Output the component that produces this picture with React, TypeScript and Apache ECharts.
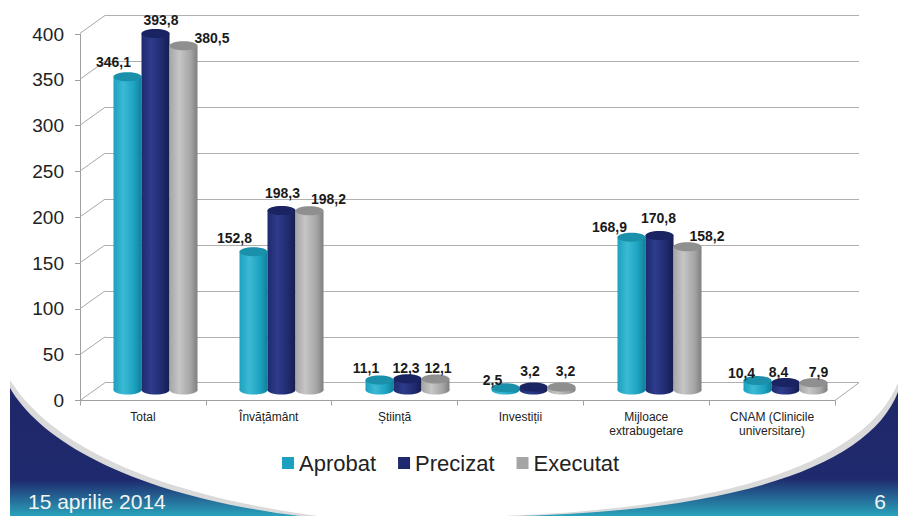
import React, { useEffect, useRef } from "react";
import * as echarts from "echarts";

// ---------- data ----------
const categories = [
  "Total",
  "Învățământ",
  "Știință",
  "Investiții",
  "Mijloace\nextrabugetare",
  "CNAM (Clinicile\nuniversitare)",
];
const seriesNames = ["Aprobat", "Precizat", "Executat"];
const aprobat = [346.1, 152.8, 11.1, 2.5, 168.9, 10.4];
const precizat = [393.8, 198.3, 12.3, 3.2, 170.8, 8.4];
const executat = [380.5, 198.2, 12.1, 3.2, 158.2, 7.9];
const yTicks = [0, 50, 100, 150, 200, 250, 300, 350, 400];
const footerDate = "15 aprilie 2014";
const slideNumber = "6";

// label nudges (px, relative to the top of each cylinder)
const aprobatNudge = [[-14, -15], [-19, -14], [-13.5, -12], [-13, -8], [-22, -10], [-16, -8]];
const precizatNudge = [[5.5, -14], [1, -18], [-1.5, -11], [-3.5, -16], [-1, -17], [-7, -10]];
const executatNudge = [[28.5, -8], [19, -12], [2.5, -11], [4, -16], [19.5, -11], [5, -11]];

// ---------- styles ----------
const FONT = '"Liberation Sans", Arial, sans-serif';
const DEPTH_X = 25;
const DEPTH_Y = 17.8;
const GROUP_FRAC = 84 / 126;
const palettes = [
  { base: "#1ba1bf", edge: "#127f98", light: "#3cbad4", top: "#1a90aa" },
  { base: "#1f2a6e", edge: "#151d50", light: "#2d3c8c", top: "#1b2462" },
  { base: "#a5a5a5", edge: "#7f7f7f", light: "#c6c6c6", top: "#8f8f8f" },
];

echarts.graphic.registerShape(
  "rimLeft",
  echarts.graphic.extendPath("M10,380 C44,434 128,490 318,516 L10,516 Z", {})
);
echarts.graphic.registerShape(
  "swooshLeft",
  echarts.graphic.extendPath("M10,388 C40,440 130,495 300,516 L10,516 Z", {})
);
echarts.graphic.registerShape(
  "rimRight",
  echarts.graphic.extendPath("M898,383 C866,460 735,508 500,516 L898,516 Z", {})
);
echarts.graphic.registerShape(
  "swooshRight",
  echarts.graphic.extendPath("M898,392 C870,465 740,510 520,516 L898,516 Z", {})
);

function cylinderSeries(idx: number, values: number[], nudges: number[][]) {
  const pal = palettes[idx];
  return {
    type: "custom",
    name: seriesNames[idx],
    xAxisIndex: 2,
    yAxisIndex: 2,
    clip: false,
    itemStyle: { color: pal.base },
    encode: { x: 0, y: 1 },
    data: values.map((v, i) => [i, v]),
    renderItem: (params: any, api: any) => {
      const ci = api.value(0);
      const v = api.value(1);
      const base = api.coord([ci, 0]);
      const top = api.coord([ci, v]);
      const band = api.size([1, 0])[0];
      const w = (band * GROUP_FRAC) / 3;
      const cx = base[0] + (idx - 1) * w;
      const rx = w / 2;
      const ry = 4.5;
      const grad = {
        type: "linear",
        x: 0,
        y: 0,
        x2: 1,
        y2: 0,
        colorStops: [
          { offset: 0, color: pal.base },
          { offset: 0.35, color: pal.light },
          { offset: 0.75, color: pal.base },
          { offset: 1, color: pal.edge },
        ],
      };
      const nd = nudges[params.dataIndex] || [0, -12];
      const txt = v.toFixed(1).replace(".", ",");
      return {
        type: "group",
        children: [
          {
            type: "ellipse",
            shape: { cx, cy: base[1], rx, ry },
            style: { fill: grad },
          },
          {
            type: "rect",
            shape: { x: cx - rx, y: top[1], width: w, height: Math.max(0, base[1] - top[1]) },
            style: { fill: grad },
          },
          {
            type: "ellipse",
            shape: { cx, cy: top[1], rx, ry },
            style: { fill: pal.top },
          },
          {
            type: "text",
            z2: 100,
            x: cx + nd[0],
            y: top[1] + nd[1],
            style: {
              text: txt,
              fill: "#1a1a1a",
              font: `bold 14px ${FONT}`,
              align: "center",
              verticalAlign: "middle",
            },
          },
        ],
      };
    },
  };
}

const depthSeries = {
  type: "custom",
  name: "depth",
  xAxisIndex: 0,
  yAxisIndex: 0,
  clip: false,
  silent: true,
  encode: { x: 0, y: 1 },
  data: yTicks.map((t) => [0, t]),
  renderItem: (params: any, api: any) => {
    const cs = params.coordSys;
    const y = api.coord([0, api.value(1)])[1];
    const stroke = { stroke: "#a8a8a8", lineWidth: 1 };
    const children: any[] = [
      {
        type: "line",
        shape: { x1: cs.x, y1: y, x2: cs.x - DEPTH_X, y2: y + DEPTH_Y },
        style: stroke,
      },
    ];
    if (api.value(1) === 0) {
      children.push({
        type: "line",
        shape: {
          x1: cs.x + cs.width,
          y1: y,
          x2: cs.x + cs.width - DEPTH_X + 1,
          y2: y + DEPTH_Y,
        },
        style: stroke,
      });
    }
    return { type: "group", children };
  },
};

export default function App() {
  const ref = useRef<HTMLDivElement>(null);
  useEffect(() => {
    if (!ref.current) return;
    const chart = echarts.init(ref.current, undefined, { renderer: "svg" });
    const axisGray = "#a0a0a0";
    const navyFill = (mid: number) => ({
      type: "linear",
      x: 0, y: 0, x2: 0, y2: 1,
      colorStops: [
        { offset: 0, color: "#1e2768" },
        { offset: mid, color: "#1f2a6e" },
        { offset: 1, color: "#2aa3bb" },
      ],
    });
    const option: any = {
      animation: false,
      backgroundColor: "#ffffff",
      textStyle: { fontFamily: FONT },
      grid: [
        { left: 105, top: 15.5, width: 754, height: 367.2 },
        { left: 80, top: 34, width: 755, height: 366.5 },
        { left: 92.5, top: 28, width: 756, height: 362 },
      ],
      xAxis: [
        { gridIndex: 0, type: "category", data: categories, show: false },
        {
          gridIndex: 1,
          type: "category",
          data: categories,
          axisLine: { show: true, lineStyle: { color: axisGray } },
          axisTick: { show: true, length: 5, lineStyle: { color: axisGray } },
          axisLabel: {
            interval: 0,
            color: "#222",
            fontSize: 12,
            fontFamily: FONT,
            margin: 9,
            lineHeight: 14,
          },
        },
        { gridIndex: 2, type: "category", data: categories, show: false },
      ],
      yAxis: [
        {
          gridIndex: 0,
          type: "value",
          min: 0,
          max: 400,
          interval: 50,
          axisLabel: { show: false },
          axisLine: { show: false },
          axisTick: { show: false },
          splitLine: { show: true, lineStyle: { color: "#b0b0b0", width: 1 } },
        },
        {
          gridIndex: 1,
          type: "value",
          min: 0,
          max: 400,
          interval: 50,
          axisLine: { show: true, lineStyle: { color: axisGray } },
          axisTick: { show: true, length: 5, lineStyle: { color: axisGray } },
          splitLine: { show: false },
          axisLabel: { color: "#222", fontSize: 19, fontFamily: FONT, margin: 16 },
        },
        { gridIndex: 2, type: "value", min: 0, max: 400, interval: 50, show: false, splitLine: { show: false } },
      ],
      legend: {
        data: seriesNames.map((n, i) => ({ name: n, itemStyle: { color: palettes[i].base } })),
        icon: "rect",
        itemWidth: 12,
        itemHeight: 12,
        itemGap: 22,
        left: 282,
        top: 452,
        padding: 0,
        textStyle: { color: "#222", fontSize: 22, fontFamily: FONT },
      },
      graphic: [
        { type: "rimLeft", x: 0, y: 0, z: -10, style: { fill: "#dadada" } },
        { type: "swooshLeft", x: 0, y: 0, z: -9, style: { fill: navyFill(0.72) } },
        { type: "rimRight", x: 0, y: 0, z: -10, style: { fill: "#dadada" } },
        { type: "swooshRight", x: 0, y: 0, z: -9, style: { fill: navyFill(0.7) } },
        {
          type: "text",
          x: 28,
          y: 501,
          z: 10,
          style: {
            text: footerDate,
            fill: "#f4f4f4",
            font: `21px ${FONT}`,
            align: "left",
            verticalAlign: "middle",
          },
        },
        {
          type: "text",
          x: 886,
          y: 501,
          z: 10,
          style: {
            text: slideNumber,
            fill: "#f4f4f4",
            font: `21px ${FONT}`,
            align: "right",
            verticalAlign: "middle",
          },
        },
      ],
      series: [
        depthSeries,
        cylinderSeries(0, aprobat, aprobatNudge),
        cylinderSeries(1, precizat, precizatNudge),
        cylinderSeries(2, executat, executatNudge),
      ],
    };
    chart.setOption(option);
    return () => chart.dispose();
  }, []);
  return (
    <div
      ref={ref}
      style={{ position: "fixed", left: 0, top: 0, width: "898px", height: "516px" }}
    />
  );
}
